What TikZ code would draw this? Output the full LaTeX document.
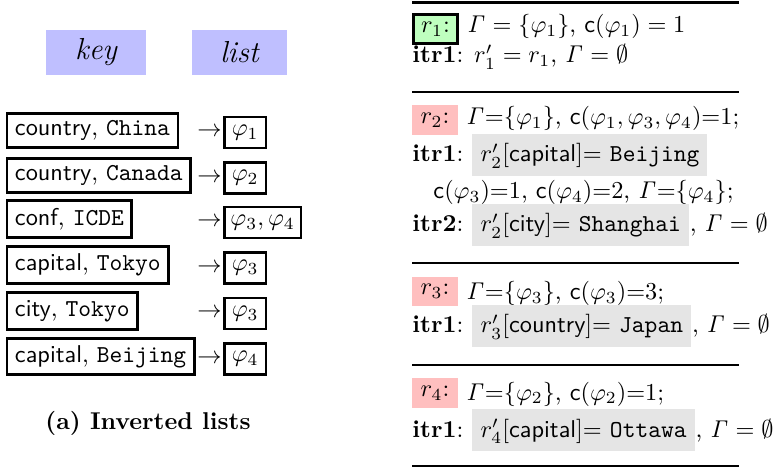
\documentclass[tikz,border=0pt]{standalone}
\begin{document}
\begin{tikzpicture}[x=0.4115pt,y=-0.4115pt,
  hdr/.style={fill=blue!25, minimum height=18.5pt, inner sep=0pt, font=\fontsize{12.5}{15}\selectfont\itshape},
  keybox/.style={draw, line width=1.2pt, anchor=west, inner xsep=3.3pt, inner ysep=0pt},
  listbox/.style={draw, line width=1pt, anchor=west, inner xsep=2.5pt, inner ysep=0pt, minimum height=12.6pt, minimum width=17.1pt},
  arr/.style={inner sep=0pt, anchor=east},
  rbox/.style={minimum width=18.9pt, minimum height=12.3pt, inner sep=0pt},
  gbox/.style={fill=gray!20, anchor=base west, inner xsep=3.3pt, inner ysep=3.3pt, text height=8.2pt, text depth=2.5pt},
  txt/.style={anchor=base west, inner sep=0pt},
  rulestyle/.style={line width=1pt}]
\useasboundingbox (0,0) rectangle (773,470);

% ---- left: inverted lists ----
\node[hdr, minimum width=41.2pt] (hkey) at (96,52.5) {key};
\node[hdr, minimum width=39.1pt] (hlist) at (239.5,52.5) {list};

\node[keybox, minimum height=14pt] (k1) at (5.5,130.5) {\textsf{country}, \texttt{China}};
\node[keybox, minimum height=14pt] (k2) at (5.5,175.5) {\textsf{country}, \texttt{Canada}};
\node[keybox, minimum height=15.3pt] (k3) at (5.5,219) {\textsf{conf}, \texttt{ICDE}};
\node[keybox, minimum height=15.3pt] (k4) at (5.5,265) {\textsf{capital}, \texttt{Tokyo}};
\node[keybox, minimum height=15.3pt] (k5) at (5.5,311) {\textsf{city}, \texttt{Tokyo}};
\node[keybox, minimum height=15pt] (k6) at (5.5,356.5) {\textsf{capital}, \texttt{Beijing}};

\node[listbox] (l1) at (223.2,132.5) {$\varphi_1$};
\node[listbox] (l2) at (223.2,178) {$\varphi_2$};
\node[listbox, minimum width=31pt] (l3) at (223.2,222.5) {$\varphi_3,\varphi_4$};
\node[listbox] (l4) at (223.2,268) {$\varphi_3$};
\node[listbox] (l5) at (223.2,313.5) {$\varphi_3$};
\node[listbox] (l6) at (223.2,359) {$\varphi_4$};

\foreach \i in {1,...,6} {
  \node[arr] (a\i) at ([xshift=-0.4pt]l\i.west) {$\rightarrow$};
}

\node[font=\bfseries] (cap) at (148,423) {(a) Inverted lists};

% ---- right: rules ----
\coordinate (ra) at (412,2.5);   \coordinate (rb) at (739,2.5);
\coordinate (rc) at (412,92);    \coordinate (rd) at (739,92);
\coordinate (re) at (412,263);   \coordinate (rf) at (739,263);
\coordinate (rg) at (412,365);   \coordinate (rh) at (739,365);
\coordinate (ri) at (412,466);   \coordinate (rj) at (739,466);
\draw[rulestyle] (ra) -- (rb);
\draw[rulestyle] (rc) -- (rd);
\draw[rulestyle] (re) -- (rf);
\draw[rulestyle] (rg) -- (rh);
\draw[rulestyle] (ri) -- (rj);

% r1
\node[rbox, draw, line width=1.2pt, fill=green!25, minimum width=18.1pt, minimum height=12pt] (r1) at (435.5,29) {$r_1$:};
\node[txt] (t1) at (467,33) {$\mathit{\Gamma} = \{\varphi_1\}$, $\mathsf{c}(\varphi_1) = 1$};
\node[txt] (i11) at (412,63) {\textbf{itr1}: $r'_1 = r_1$, $\mathit{\Gamma} = \emptyset$};

% r2
\node[rbox, fill=red!25] (r2) at (435,120) {$r_2$:};
\node[txt] (t2) at (466,125) {$\mathit{\Gamma}{=}\{\varphi_1\}$, $\mathsf{c}(\varphi_1,\varphi_3,\varphi_4){=}1$;};
\node[txt] (i21) at (412,162) {\textbf{itr1}:};
\node[gbox] (g21) at (472,162) {$r'_2[\textsf{capital}]{=}$ \texttt{Beijing}};
\node[txt] (c21) at (433,199) {$\mathsf{c}(\varphi_3){=}1$, $\mathsf{c}(\varphi_4){=}2$, $\mathit{\Gamma}{=}\{\varphi_4\}$;};
\node[txt] (i22) at (412,232) {\textbf{itr2}:};
\node[gbox] (g22) at (472,232) {$r'_2[\textsf{city}]{=}$ \texttt{Shanghai}};
\node[txt] (e22) at (g22.base east) {, $\mathit{\Gamma} = \emptyset$};

% r3
\node[rbox, fill=red!25] (r3) at (435,291.5) {$r_3$:};
\node[txt] (t3) at (466,300) {$\mathit{\Gamma}{=}\{\varphi_3\}$, $\mathsf{c}(\varphi_3){=}3$;};
\node[txt] (i31) at (412,333) {\textbf{itr1}:};
\node[gbox] (g31) at (472,333) {$r'_3[\textsf{country}]{=}$ \texttt{Japan}};
\node[txt] (e31) at (g31.base east) {, $\mathit{\Gamma} = \emptyset$};

% r4
\node[rbox, fill=red!25] (r4) at (435,393) {$r_4$:};
\node[txt] (t4) at (466,400) {$\mathit{\Gamma}{=}\{\varphi_2\}$, $\mathsf{c}(\varphi_2){=}1$;};
\node[txt] (i41) at (412,437) {\textbf{itr1}:};
\node[gbox] (g41) at (472,437) {$r'_4[\textsf{capital}]{=}$ \texttt{Ottawa}};
\node[txt] (e41) at (g41.base east) {, $\mathit{\Gamma} = \emptyset$};
\end{tikzpicture}
\end{document}
